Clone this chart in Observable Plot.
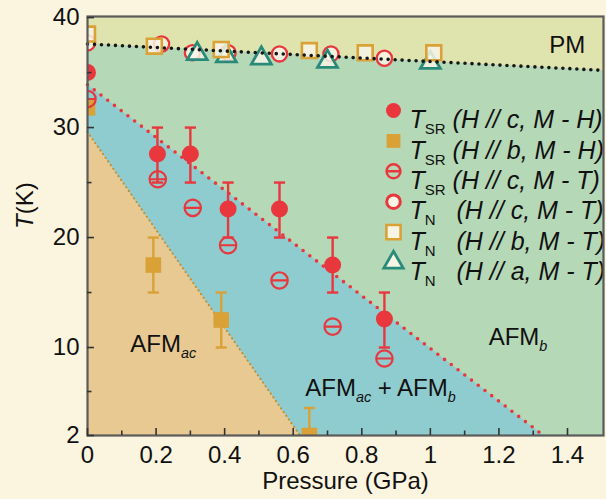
<!DOCTYPE html>
<html><head><meta charset="utf-8">
<script src="https://cdn.jsdelivr.net/npm/d3@7"></script>
<script src="https://cdn.jsdelivr.net/npm/@observablehq/plot@0.6"></script>
<style>
html,body{margin:0;padding:0;background:#fbf4df;}
#chart{width:606px;height:499px;}
svg text{white-space:pre;}
</style></head><body><div id="chart"></div>
<script>
// ---- data ----
// T_SR (H // c, M - H): filled red circles with error bars
const srcHP = [0, 0.204, 0.30, 0.41, 0.56, 0.715, 0.866];
const srcHT = [35.0, 27.6, 27.6, 22.6, 22.6, 17.5, 12.6];
const srcHLo = [null, 25, 25, 20, 20, 15, 10];
const srcHHi = [null, 30, 30, 25, 25, 20, 15];
// T_SR (H // b, M - H): filled orange squares with error bars
const srbHP = [0, 0.192, 0.39, 0.647];
const srbHT = [31.8, 17.5, 12.5, 2.0];
const srbHLo = [null, 15, 10, 2];
const srbHHi = [null, 20, 15, 4.5];
// T_SR (H // c, M - T): red circles with bar
const srcTP = [0, 0.205, 0.307, 0.41, 0.56, 0.715, 0.866];
const srcTT = [32.6, 25.3, 22.7, 19.3, 16.1, 11.9, 9.0];
// T_N (H // c, M - T): open red circles
const ncTP = [0, 0.216, 0.306, 0.41, 0.56, 0.71, 0.866];
const ncTT = [37.7, 37.6, 36.8, 36.8, 36.7, 36.7, 36.3];
// T_N (H // b, M - T): open orange squares
const nbTP = [0, 0.195, 0.39, 0.647, 0.81, 1.01];
const nbTT = [38.5, 37.4, 37.1, 37.0, 36.8, 36.8];
// T_N (H // a, M - T): open teal triangles
const naTP = [0.32, 0.405, 0.507, 0.70, 1.0];
const naTT = [36.7, 36.5, 36.3, 36.0, 35.9];
// phase boundaries
const pmLineP = [0, 1.505], pmLineT = [37.6, 35.2];
const srLineP = [0, 1.33], srLineT = [33.9, 2];
const acLineP = [0, 0.62], acLineT = [29.6, 2];
// region labels
const regionLabels = ["PM", "AFM<isub>ac</isub>", "AFM<isub>b</isub>", "AFM<isub>ac</isub> + AFM<isub>b</isub>"];
const regionP = [1.347, 0.125, 1.17, 0.635];
const regionT = [37.5, 10.3, 10.9, 6.3];
// legend
const legendLabels = [
  "<i>T</i><sub>SR</sub><i> (H // c, M - H)</i>",
  "<i>T</i><sub>SR</sub><i> (H // b, M - H)</i>",
  "<i>T</i><sub>SR</sub><i> (H // c, M - T)</i>",
  "<i>T</i><sub>N</sub><i>   (H // c, M - T)</i>",
  "<i>T</i><sub>N</sub><i>   (H // b, M - T)</i>",
  "<i>T</i><sub>N</sub><i>   (H // a, M - T)</i>"
];
// ticks
const xMajor = [0, 0.2, 0.4, 0.6, 0.8, 1, 1.2, 1.4];
const xMinor = [0.1, 0.3, 0.5, 0.7, 0.9, 1.1, 1.3];
const yMajor = [2, 10, 20, 30, 40];
const yMinor = [6, 15, 25, 35];

// ---- styles ----
const red = "#e8373d", orange = "#d9a136", teal = "#2a8a79", openFill = "#f7f4e6";
const pmFill = "#dfe3ae", greenFill = "#b5d8b7", blueFill = "#8fcccf", tanFill = "#e8c991";

const cap = {draw(ctx, size) { const r = Math.sqrt(size / Math.PI); ctx.moveTo(-r, 0); ctx.lineTo(r, 0); }};
const theta = {draw(ctx, size) { const r = Math.sqrt(size / Math.PI); ctx.moveTo(r, 0); ctx.arc(0, 0, r, 0, 2 * Math.PI); ctx.moveTo(-r, 0); ctx.lineTo(r, 0); }};

const zip = (P, T) => P.map((p, i) => ({p, t: T[i]}));
const withErr = (P, T, Lo, Hi) => P.map((p, i) => ({p, t: T[i], lo: Lo[i], hi: Hi[i]})).filter(d => d.lo != null);

const srcH = zip(srcHP, srcHT), srbH = zip(srbHP, srbHT), srcT = zip(srcTP, srcTT);
const ncT = zip(ncTP, ncTT), nbT = zip(nbTP, nbTT), naT = zip(naTP, naTT);
const srcHE = withErr(srcHP, srcHT, srcHLo, srcHHi), srbHE = withErr(srbHP, srbHT, srbHLo, srbHHi);
const pmLine = zip(pmLineP, pmLineT), srLine = zip(srLineP, srLineT), acLine = zip(acLineP, acLineT);
const regions = regionLabels.map((s, i) => ({s, p: regionP[i], t: regionT[i]}));

const legendStyles = [
  {fill: red, r: 7.5, symbol: "circle"},
  {fill: orange, r: 7.8, symbol: "square"},
  {fill: "none", stroke: red, strokeWidth: 2.4, r: 7, symbol: theta},
  {fill: openFill, stroke: red, strokeWidth: 3, r: 6.8, symbol: "circle"},
  {fill: openFill, stroke: orange, strokeWidth: 2.6, r: 8, symbol: "square"},
  {fill: openFill, stroke: teal, strokeWidth: 2.8, r: 7.2, symbol: "triangle"}
];
const legendRowY = i => 94 + 30.4 * i;

const marks = [
  Plot.frame({fill: pmFill}),
  Plot.areaY(pmLine, {x: "p", y1: 2, y2: "t", fill: greenFill}),
  Plot.areaY(srLine, {x: "p", y1: 2, y2: "t", fill: blueFill}),
  Plot.areaY(acLine, {x: "p", y1: 2, y2: "t", fill: tanFill}),
  Plot.line(acLine, {x: "p", y: "t", stroke: "#c58d2a", strokeWidth: 2.2, strokeDasharray: "0 4.5", strokeLinecap: "round"}),
  Plot.line(srLine, {x: "p", y: "t", stroke: red, strokeWidth: 3.6, strokeDasharray: "0 8.5", strokeLinecap: "round"}),
  // error bars
  Plot.ruleX(srcHE, {x: "p", y1: "lo", y2: "hi", stroke: red, strokeWidth: 2.4}),
  Plot.dot(srcHE, {x: "p", y: "hi", symbol: cap, r: 5.6, stroke: red, strokeWidth: 2.4}),
  Plot.dot(srcHE, {x: "p", y: "lo", symbol: cap, r: 5.6, stroke: red, strokeWidth: 2.4}),
  Plot.ruleX(srbHE, {x: "p", y1: "lo", y2: "hi", stroke: orange, strokeWidth: 2.4}),
  Plot.dot(srbHE, {x: "p", y: "hi", symbol: cap, r: 5.6, stroke: orange, strokeWidth: 2.4}),
  Plot.dot(srbHE.filter(d => d.lo > 2), {x: "p", y: "lo", symbol: cap, r: 5.6, stroke: orange, strokeWidth: 2.4}),
  // markers
  Plot.dot(srbH, {x: "p", y: "t", symbol: "square", r: 8.8, fill: orange, clip: true}),
  Plot.dot(srcH, {x: "p", y: "t", r: 8.5, fill: red, clip: true}),
  Plot.dot(srcT, {x: "p", y: "t", symbol: theta, r: 8.2, fill: "none", stroke: red, strokeWidth: 2.2, clip: true}),
  Plot.dot(ncT, {x: "p", y: "t", r: 7.6, fill: openFill, fillOpacity: 0.85, stroke: red, strokeWidth: 2.3, clip: true}),
  Plot.dot(naT, {x: "p", y: "t", symbol: "triangle", r: 7.4, fill: openFill, fillOpacity: 0.85, stroke: teal, strokeWidth: 2.8, clip: true}),
  Plot.dot(nbT, {x: "p", y: "t", symbol: "square", r: 8.4, fill: openFill, fillOpacity: 0.85, stroke: orange, strokeWidth: 2.6, clip: true}),
  Plot.line(pmLine, {x: "p", y: "t", stroke: "#161616", strokeWidth: 3.6, strokeDasharray: "0 7", strokeLinecap: "round"}),
  // region labels
  Plot.text(regions, {x: "p", y: "t", text: "s", textAnchor: "start", fontSize: 24, fill: "#111"}),
  // legend
  ...legendLabels.map((s, i) => Plot.dot([s], {frameAnchor: "top-left", dx: 306, dy: legendRowY(i), ...legendStyles[i]})),
  ...legendLabels.map((s, i) => Plot.text([s], {frameAnchor: "top-left", dx: 322, dy: legendRowY(i), text: d => d, textAnchor: "start", fontSize: 25, fill: "#111"})),
  // frame & axes
  Plot.frame({stroke: "#5b5b5b", strokeWidth: 2.2}),
  Plot.axisX({ticks: xMajor, label: null, tickSize: -7, tickPadding: 17, tickFormat: d => String(d), stroke: "#333", strokeWidth: 1.6}),
  Plot.axisX({ticks: xMinor, label: null, tickSize: -4.5, tickFormat: () => "", stroke: "#333", strokeWidth: 1.6}),
  Plot.axisY({ticks: yMajor, label: null, tickSize: -7, tickPadding: 15, tickFormat: d => String(d), stroke: "#333", strokeWidth: 1.6}),
  Plot.axisY({ticks: yMinor, label: null, tickSize: -4.5, tickFormat: () => "", stroke: "#333", strokeWidth: 1.6}),
  Plot.text(["Pressure (GPa)"], {frameAnchor: "bottom", dy: 53, text: d => d, fontSize: 24, fill: "#111"}),
  Plot.text(["<i>T</i>(K)"], {frameAnchor: "left", dx: -62, dy: 3, rotate: -90, text: d => d, fontSize: 24, fill: "#111"})
];

const svg = Plot.plot({
  width: 606, height: 499,
  marginLeft: 87, marginRight: 3, marginTop: 16, marginBottom: 64,
  x: {domain: [0, 1.505], axis: null, label: null},
  y: {domain: [2, 40.1], axis: null, label: null},
  style: {background: "transparent", fontFamily: "'Liberation Sans', Arial, sans-serif", fontSize: "24px", color: "#111"},
  marks
});
document.getElementById("chart").appendChild(svg);

function richText(root) {
  root.querySelectorAll("text").forEach(t => {
    const s = t.textContent;
    if (!/<(i|sub|isub)>/.test(s)) return;
    const fs = parseFloat(getComputedStyle(t).fontSize) || 24;
    const sh = Math.round(fs * 0.24);
    t.textContent = "";
    let shifted = false;
    const re = /<(i|sub|isub)>(.*?)<\/\1>|([^<]+)/g;
    let m;
    while ((m = re.exec(s))) {
      const ts = document.createElementNS("http://www.w3.org/2000/svg", "tspan");
      const kind = m[1] || "n";
      ts.textContent = m[1] ? m[2] : m[3];
      const sub = kind === "sub" || kind === "isub";
      if (kind === "i" || kind === "isub") ts.setAttribute("font-style", "italic");
      if (sub) {
        ts.setAttribute("font-size", (fs * 0.6) + "px");
        if (!shifted) { ts.setAttribute("dy", sh); shifted = true; }
      } else if (shifted) { ts.setAttribute("dy", -sh); shifted = false; }
      t.appendChild(ts);
    }
  });
}
richText(svg);
</script></body></html>
